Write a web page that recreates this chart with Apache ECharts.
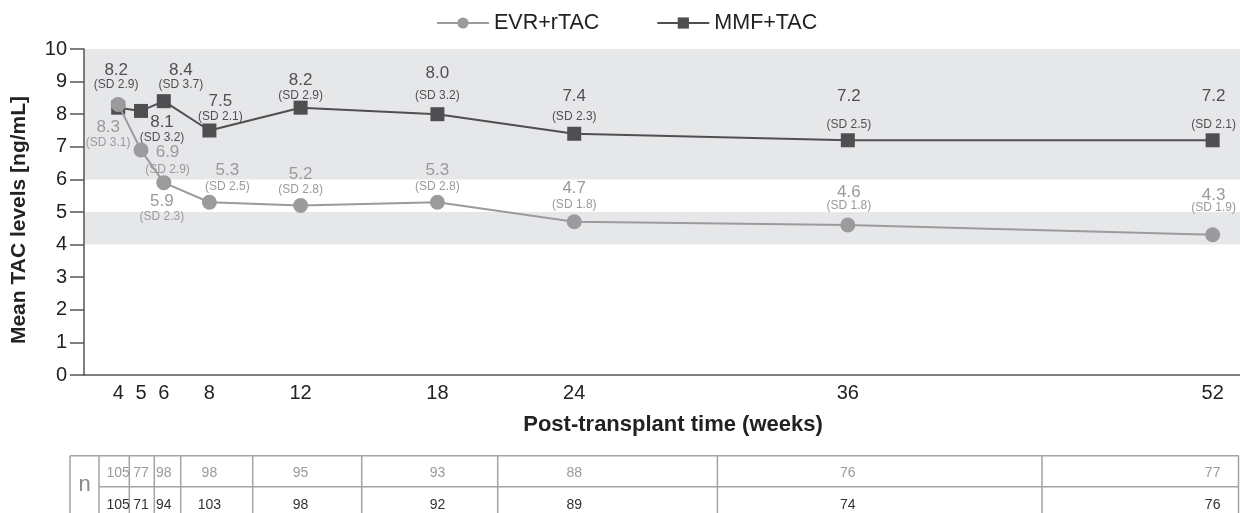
<!DOCTYPE html>
<html>
<head>
<meta charset="utf-8">
<script src="https://cdn.jsdelivr.net/npm/echarts@6/dist/echarts.min.js"></script>
<style>
html,body{margin:0;padding:0;background:#fff;}
#c{width:1240px;height:513px;}
</style>
</head>
<body>
<div id="c"></div>
<script>
// ---- data ----
var weeks = [4, 5, 6, 8, 12, 18, 24, 36, 52];
var evrMean = [8.3, 6.9, 5.9, 5.3, 5.2, 5.3, 4.7, 4.6, 4.3];
var evrSD = [3.1, 2.9, 2.3, 2.5, 2.8, 2.8, 1.8, 1.8, 1.9];
var mmfMean = [8.2, 8.1, 8.4, 7.5, 8.2, 8.0, 7.4, 7.2, 7.2];
var mmfSD = [2.9, 3.2, 3.7, 2.1, 2.9, 3.2, 2.3, 2.5, 2.1];
var evrN = [105, 77, 98, 98, 95, 93, 88, 76, 77];
var mmfN = [105, 71, 94, 103, 98, 92, 89, 74, 76];
var yTicks = [0, 1, 2, 3, 4, 5, 6, 7, 8, 9, 10];

// ---- layout (label placement: dx, dy of value text centre, gap value->SD) ----
var evrLab = [[-10, 23, 15.4], [26.5, 2.7, 16.6], [-2, 19, 15.6], [18, -31.5, 16], [0, -31.5, 16], [0, -31.5, 16], [0, -33, 16], [1, -33, 14], [1, -40, 13]];
var mmfLab = [[-2, -37.7, 15], [21, 11, 16], [17, -31, 15], [11, -29.5, 16], [0, -27, 15.3], [0, -41, 22], [0, -37, 20], [1, -44, 28], [1, -44, 28]];
var tableBorders = [99, 129.3, 154.3, 180.7, 252.7, 361.7, 497.7, 717.4, 1042, 1238.5];

var FONT = '"Liberation Sans", Arial, Helvetica, sans-serif';
var EVR_C = '#9b9b9d';
var MMF_C = '#4f4f51';

function buildSeriesData(means, sds, lab) {
  return weeks.map(function (w, i) {
    var L = Math.max(2, Math.round(2 * (lab[i][2] - 8.5)));
    return {
      value: [w, means[i]],
      label: {
        offset: [lab[i][0], lab[i][1] + L / 2],
        formatter: '{v|' + means[i].toFixed(1) + '}\n{s' + L + '|(SD ' + sds[i].toFixed(1) + ')}'
      }
    };
  });
}
function buildRich(lab, color) {
  var r = { v: { fontSize: 17, lineHeight: 17, color: color, fontFamily: FONT, align: 'center' } };
  lab.forEach(function (l) {
    var L = Math.max(2, Math.round(2 * (l[2] - 8.5)));
    r['s' + L] = { fontSize: 12, lineHeight: L, color: color, fontFamily: FONT, align: 'center' };
  });
  return r;
}

var chart = echarts.init(document.getElementById('c'), null, { renderer: 'canvas' });
var option = {
  animation: false,
  backgroundColor: '#fff',
  textStyle: { fontFamily: FONT },
  legend: {
    left: 431, top: 7,
    itemWidth: 52, itemHeight: 14, itemGap: 57,
    textStyle: { fontSize: 21.5, color: '#222', fontFamily: FONT },
    data: ['EVR+rTAC', 'MMF+TAC']
  },
  grid: { left: 84, right: 0, top: 49, bottom: 138, containLabel: false, outerBoundsMode: 'none' },
  xAxis: {
    type: 'value', min: 2.5, max: 53.2, z: 5,
    axisLine: { show: true, lineStyle: { color: '#555', width: 1.5 } },
    axisTick: { show: false },
    splitLine: { show: false },
    axisLabel: { customValues: weeks, fontSize: 20, color: '#222', margin: 8, fontFamily: FONT },
    name: 'Post-transplant time (weeks)',
    nameLocation: 'middle', nameGap: 39,
    nameTextStyle: { fontSize: 22, fontWeight: 'bold', color: '#222', fontFamily: FONT, padding: [0, 0, 0, 22] }
  },
  yAxis: {
    type: 'value', min: 0, max: 10, interval: 1, z: 5,
    axisLine: { show: true, lineStyle: { color: '#555', width: 1.5 } },
    axisTick: { show: true, length: 14, lineStyle: { color: '#555', width: 1.5 } },
    splitLine: { show: false },
    axisLabel: { customValues: yTicks, fontSize: 20, color: '#222', margin: 17, fontFamily: FONT },
    name: 'Mean TAC levels [ng/mL]',
    nameLocation: 'middle', nameGap: 54, nameRotate: 90,
    nameTextStyle: { fontSize: 21, fontWeight: 'bold', color: '#222', fontFamily: FONT, padding: [0, 16, 0, 0] }
  },
  series: [
    {
      name: 'bands', type: 'line', data: [], z: 1, silent: true,
      markArea: {
        silent: true,
        itemStyle: { color: '#e6e7e9' },
        data: [[{ yAxis: 6 }, { yAxis: 10 }], [{ yAxis: 4 }, { yAxis: 5 }]]
      }
    },
    {
      name: 'MMF+TAC', type: 'line', z: 3,
      symbol: 'rect', symbolSize: 14,
      itemStyle: { color: MMF_C },
      lineStyle: { color: MMF_C, width: 2 },
      label: { show: true, position: 'inside', rich: buildRich(mmfLab, '#505052') },
      data: buildSeriesData(mmfMean, mmfSD, mmfLab)
    },
    {
      name: 'EVR+rTAC', type: 'line', z: 4,
      symbol: 'circle', symbolSize: 15,
      itemStyle: { color: EVR_C },
      lineStyle: { color: EVR_C, width: 2 },
      label: { show: true, position: 'inside', rich: buildRich(evrLab, '#9a9a9c') },
      data: buildSeriesData(evrMean, evrSD, evrLab)
    }
  ]
};
chart.setOption(option);

// ---- n table ----
var tTop = 455.7, tMid = 486.7, tBot = 520, tLeft = 70;
var tRight = tableBorders[tableBorders.length - 1];
function seg(x1, y1, x2, y2) {
  return { type: 'line', silent: true, shape: { x1: x1, y1: y1, x2: x2, y2: y2 }, style: { stroke: '#a3a3a3', lineWidth: 1.5 } };
}
var g = [];
g.push(seg(tLeft, tTop, tRight, tTop));
g.push(seg(tableBorders[0], tMid, tRight, tMid));
g.push(seg(tLeft, tTop, tLeft, tBot));
tableBorders.forEach(function (x) { g.push(seg(x, tTop, x, tBot)); });
g.push({ type: 'text', x: (tLeft + tableBorders[0]) / 2, y: 485, silent: true,
  style: { text: 'n', fontSize: 22, fill: '#888', fontFamily: FONT, align: 'center', verticalAlign: 'middle' } });
weeks.forEach(function (w, i) {
  var px = chart.convertToPixel({ xAxisIndex: 0 }, w);
  g.push({ type: 'text', x: px, y: 473.5, silent: true,
    style: { text: String(evrN[i]), fontSize: 14, fill: '#9a9a9a', fontFamily: FONT, align: 'center', verticalAlign: 'middle' } });
  g.push({ type: 'text', x: px, y: 505, silent: true,
    style: { text: String(mmfN[i]), fontSize: 14, fill: '#333', fontFamily: FONT, align: 'center', verticalAlign: 'middle' } });
});
chart.setOption({ graphic: g });
</script>
</body>
</html>
